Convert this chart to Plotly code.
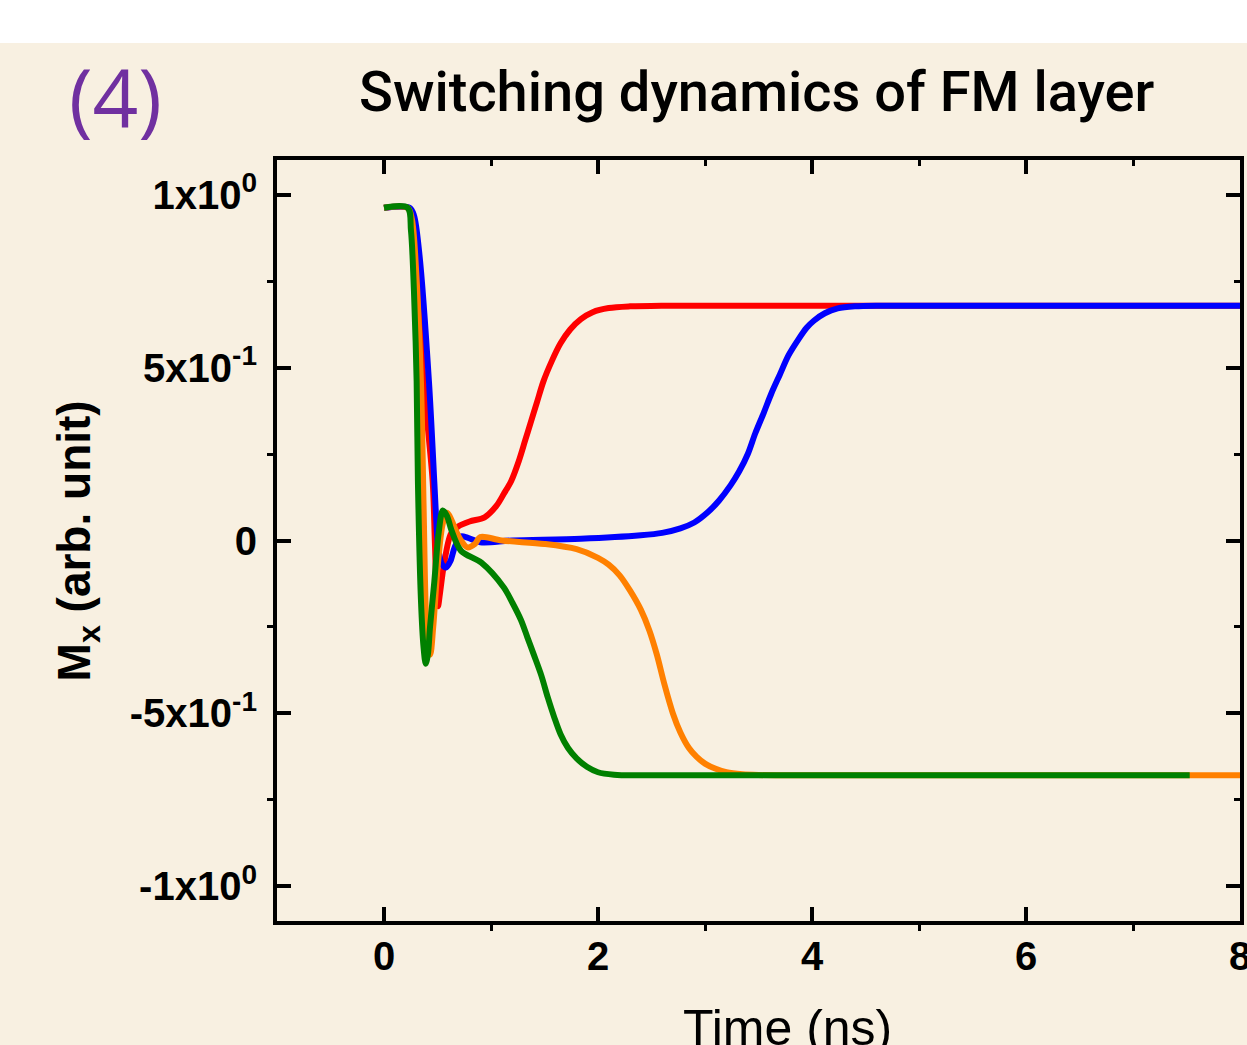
import plotly.graph_objects as go

# ---- data ----
t_red = [0, 0.22, 0.26, 0.30, 0.37, 0.455, 0.475, 0.495, 0.505, 0.52, 0.56, 0.626, 0.69, 0.80, 0.94,
         1.05, 1.12, 1.19, 1.26, 1.32, 1.37, 1.43, 1.49, 1.57, 1.65, 1.74, 1.84, 1.95, 2.1, 2.3, 2.6, 8.0]
m_red = [0.962, 0.962, 0.94, 0.82, 0.46, 0.17, 0.0, -0.17, -0.19, -0.16, -0.07, 0.02, 0.04, 0.055, 0.067,
         0.10, 0.135, 0.173, 0.23, 0.29, 0.34, 0.40, 0.46, 0.52, 0.57, 0.61, 0.64, 0.66, 0.672, 0.677, 0.679, 0.679]

t_blue = [0, 0.24, 0.28, 0.33, 0.42, 0.47, 0.485, 0.51, 0.545, 0.58, 0.62, 0.66, 0.72, 0.78, 0.9,
          1.2, 1.84, 2.4, 2.6, 2.77, 2.9, 3.02, 3.13, 3.24, 3.32, 3.40, 3.47, 3.55, 3.62, 3.70, 3.78,
          3.87, 3.95, 4.02, 4.12, 4.24, 4.4, 4.64, 8.0]
m_blue = [0.962, 0.962, 0.94, 0.83, 0.46, 0.17, 0.08, -0.03, -0.07, -0.078, -0.06, -0.02, 0.012, 0.008, -0.005,
          0.0, 0.005, 0.015, 0.022, 0.035, 0.052, 0.08, 0.115, 0.16, 0.2, 0.25, 0.31, 0.37, 0.425, 0.48, 0.535,
          0.58, 0.615, 0.636, 0.657, 0.671, 0.677, 0.679, 0.679]

t_orange = [0, 0.22, 0.26, 0.30, 0.345, 0.37, 0.39, 0.41, 0.43, 0.46, 0.50, 0.55, 0.59, 0.63, 0.67,
            0.72, 0.78, 0.85, 0.9, 1.1, 1.5, 1.8, 2.0, 2.1, 2.2, 2.3, 2.4, 2.48, 2.55, 2.62, 2.7, 2.77,
            2.85, 2.92, 3.0, 3.1, 3.2, 3.35, 3.5, 4.0, 8.0]
m_orange = [0.962, 0.962, 0.93, 0.78, 0.46, 0.10, -0.2, -0.32, -0.33, -0.25, -0.08, 0.05, 0.08, 0.06, 0.03,
            0.0, -0.02, -0.01, 0.01, 0.0, -0.01, -0.025, -0.05, -0.07, -0.1, -0.145, -0.2, -0.26, -0.33, -0.415,
            -0.5, -0.555, -0.6, -0.625, -0.645, -0.66, -0.67, -0.676, -0.678, -0.679, -0.679]

t_green = [0, 0.22, 0.252, 0.28, 0.305, 0.317, 0.345, 0.37, 0.39, 0.41, 0.43, 0.47, 0.51, 0.55, 0.59,
           0.63, 0.72, 0.91, 1.12, 1.2, 1.28, 1.34, 1.4, 1.47, 1.53, 1.59, 1.65, 1.72, 1.8, 1.9, 2.0,
           2.15, 2.4, 7.53]
m_green = [0.962, 0.962, 0.896, 0.72, 0.46, 0.17, -0.17, -0.31, -0.356, -0.33, -0.25, -0.12, 0.02, 0.087, 0.07,
           0.03, -0.03, -0.064, -0.136, -0.18, -0.23, -0.28, -0.33, -0.39, -0.453, -0.51, -0.56, -0.60, -0.63,
           -0.655, -0.67, -0.677, -0.679, -0.679]

x_major = [0, 2, 4, 6, 8]
x_minor = [-1, 1, 3, 5, 7]
y_major = [-1.0, -0.5, 0.0, 0.5, 1.0]
y_minor = [-0.75, -0.25, 0.25, 0.75]
y_ticktext = ["-1x10<sup>0</sup>", "-5x10<sup>-1</sup>", "0", "5x10<sup>-1</sup>", "1x10<sup>0</sup>"]

BG = "#F8F0E1"
series = [
    (t_red, m_red, "#FF0000"),
    (t_blue, m_blue, "#0000FF"),
    (t_orange, m_orange, "#FF8000"),
    (t_green, m_green, "#008000"),
]

fig = go.Figure()
for tx, my, col in series:
    fig.add_trace(go.Scatter(x=tx, y=my, mode="lines",
                             line=dict(color=col, width=6, shape="spline", smoothing=0.9),
                             showlegend=False, hoverinfo="skip"))
# empty trace to activate mirror axes
fig.add_trace(go.Scatter(x=[], y=[], xaxis="x2", yaxis="y2", showlegend=False, hoverinfo="skip"))

tickfont = dict(family="Liberation Sans, Arial, sans-serif", size=40, color="black", weight="bold")

fig.update_layout(
    width=1247, height=1045,
    margin=dict(l=277, r=7, t=160, b=124, autoexpand=False),
    paper_bgcolor=BG, plot_bgcolor=BG,
    xaxis=dict(range=[-1, 8], tickmode="array", tickvals=x_major, ticktext=[str(v) for v in x_major],
               ticks="inside", ticklen=14, tickwidth=4, tickcolor="black",
               showline=True, linewidth=4, linecolor="black", mirror=True, automargin=False,
               showgrid=False, zeroline=False, tickfont=tickfont, ticklabelstandoff=-3,
               ticklabeloverflow="allow",
               minor=dict(tickmode="array", tickvals=x_minor, ticks="outside", ticklen=6, tickwidth=3,
                          tickcolor="black", showgrid=False)),
    yaxis=dict(range=[-1.1, 1.1], tickmode="array", tickvals=y_major, ticktext=y_ticktext,
               ticks="inside", ticklen=14, tickwidth=4, tickcolor="black",
               showline=True, linewidth=4, linecolor="black", mirror=True, automargin=False,
               showgrid=False, zeroline=False, tickfont=tickfont, ticklabelstandoff=8,
               minor=dict(tickmode="array", tickvals=y_minor, ticks="outside", ticklen=6, tickwidth=3,
                          tickcolor="black", showgrid=False)),
    xaxis2=dict(range=[-1, 8], overlaying="x", side="top", anchor="y", tickmode="array", tickvals=x_major,
                ticks="inside", ticklen=14, tickwidth=4, tickcolor="black", showticklabels=False,
                showline=False, showgrid=False, zeroline=False, automargin=False,
                minor=dict(tickmode="array", tickvals=x_minor, ticks="inside", ticklen=6, tickwidth=3,
                           tickcolor="black", showgrid=False)),
    yaxis2=dict(range=[-1.1, 1.1], overlaying="y", side="right", anchor="x", tickmode="array", tickvals=y_major,
                ticks="inside", ticklen=14, tickwidth=4, tickcolor="black", showticklabels=False,
                showline=False, showgrid=False, zeroline=False, automargin=False,
                minor=dict(tickmode="array", tickvals=y_minor, ticks="inside", ticklen=6, tickwidth=3,
                           tickcolor="black", showgrid=False)),
    shapes=[dict(type="rect", xref="paper", yref="paper", x0=-0.4, x1=1.1, y0=1.1538, y1=1.26,
                 fillcolor="white", line=dict(width=0), layer="below")],
    annotations=[
        dict(text="Switching dynamics of FM layer", xref="paper", yref="paper", x=0.4984, y=1.0894,
             xanchor="center", yanchor="middle", showarrow=False,
             font=dict(family="Roboto, Liberation Sans, sans-serif", size=56, color="black", weight=500)),
        dict(text="(4)", xref="paper", yref="paper", x=-0.168, y=1.085,
             xanchor="center", yanchor="middle", showarrow=False,
             font=dict(family="Open Sans, Noto Sans, sans-serif", size=80, color="#7030A0", weight=400)),
        dict(text="M<sub>x</sub> (arb. unit)", xref="paper", yref="paper", x=-0.2067, y=0.5,
             xanchor="center", yanchor="middle", showarrow=False, textangle=-90,
             font=dict(family="Liberation Sans, Arial, sans-serif", size=46, color="black", weight="bold")),
        dict(text="Time (ns)", xref="paper", yref="paper", x=0.5306, y=-0.1406,
             xanchor="center", yanchor="middle", showarrow=False,
             font=dict(family="Liberation Sans, Arial, sans-serif", size=50, color="black")),
    ],
)

fig.write_html("out.html")
